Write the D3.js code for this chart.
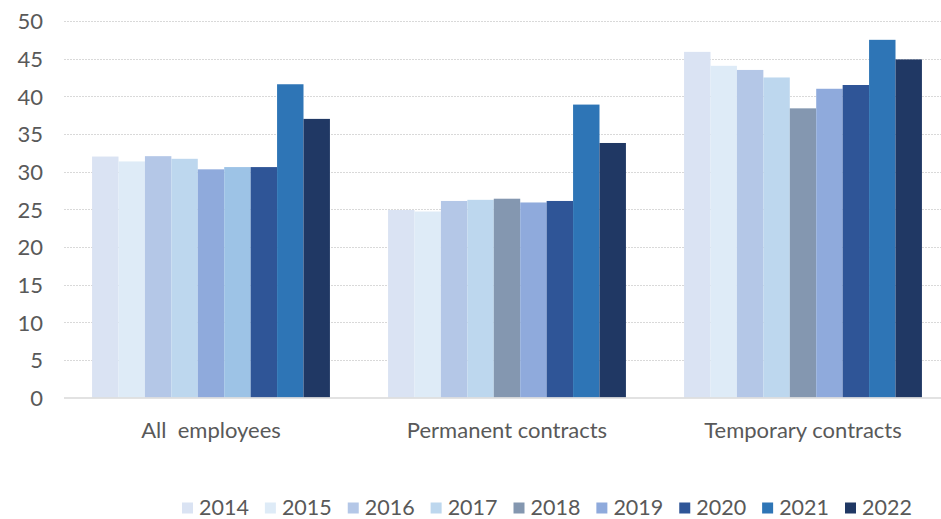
<!DOCTYPE html>
<html><head><meta charset="utf-8">
<script src="https://cdn.jsdelivr.net/npm/d3@7"></script>
<style>html,body{margin:0;padding:0;background:#fff;}svg{display:block;font-family:Lato,"Open Sans",sans-serif;}</style>
</head><body>
<svg id="chart" width="941" height="519"></svg>
<script>
const categories = ["All  employees", "Permanent contracts", "Temporary contracts"];
const years = ["2014","2015","2016","2017","2018","2019","2020","2021","2022"];
const v2014 = [32.0, 24.9, 45.9];
const v2015 = [31.35, 24.7, 44.05];
const v2016 = [32.05, 26.1, 43.5];
const v2017 = [31.7, 26.25, 42.5];
const v2018 = [30.3, 26.4, 38.4];
const v2019 = [30.6, 25.9, 41.0];
const v2020 = [30.6, 26.1, 41.5];
const v2021 = [41.6, 38.9, 47.5];
const v2022 = [37.0, 33.8, 44.9];
const seriesValues = [v2014, v2015, v2016, v2017, v2018, v2019, v2020, v2021, v2022];
const colors = ["#DAE3F3","#DEEBF7","#B4C7E7","#BDD7EE","#8497B0","#8FAADC","#2F5597","#2E75B6","#203864"];
// per-point colour overrides seen in the source ("All employees" group)
const pointColors = {"0-4": "#8FAADC", "0-5": "#9DC3E6"};
const yTicks = [0,5,10,15,20,25,30,35,40,45,50];

const FONT = "Lato,'Open Sans',sans-serif";
const svg = d3.select("#chart");
const x0 = d3.scaleBand().domain(categories).range([63, 951]).paddingInner(0).paddingOuter(0);
const x1 = d3.scaleBand().domain(years).range([0, x0.bandwidth()]).paddingOuter(1.1).paddingInner(0);
const y = d3.scaleLinear().domain([0, 50]).range([397.5, 21]);

// gridlines
svg.append("g").selectAll("line").data(yTicks.filter(t => t > 0)).join("line")
  .attr("x1", 64).attr("x2", 941)
  .attr("y1", d => Math.round(y(d)) + 0.5).attr("y2", d => Math.round(y(d)) + 0.5)
  .attr("stroke", "#D9D9D9").attr("stroke-width", 1.2).attr("stroke-dasharray", "2,1");

// y axis labels
const yAxis = d3.axisLeft(y).tickValues(yTicks).tickSize(0).tickPadding(0);
const ga = svg.append("g").attr("transform", "translate(43,0)").call(yAxis);
ga.select(".domain").remove();
ga.selectAll("text").attr("font-size", 22).attr("fill", "#595959").attr("font-family", FONT).attr("dy", "0.36em");

// bars
const groups = svg.append("g").selectAll("g").data(categories).join("g")
  .attr("transform", d => `translate(${x0(d)},0)`);
groups.selectAll("rect").data((c, ci) => years.map((yr, si) => ({yr, si, ci, v: seriesValues[si][ci]}))).join("rect")
  .attr("x", d => x1(d.yr)).attr("width", x1.bandwidth())
  .attr("y", d => y(d.v)).attr("height", d => y(0) - y(d.v))
  .attr("fill", d => pointColors[d.ci + "-" + d.si] || colors[d.si]);

// zero axis line
svg.append("line").attr("x1", 64).attr("x2", 941).attr("y1", y(0) + 0.5).attr("y2", y(0) + 0.5)
  .attr("stroke", "#D9D9D9").attr("stroke-width", 1.5);

// category labels
const xAxis = d3.axisBottom(x0).tickSize(0).tickPadding(0);
const gx = svg.append("g").attr("transform", "translate(0,438)").call(xAxis);
gx.select(".domain").remove();
gx.selectAll("text").attr("font-size", 22).attr("fill", "#595959").attr("font-family", FONT).attr("dy", "0").style("white-space", "pre").attr("xml:space", "preserve");

// legend
const legendX = d3.scalePoint().domain(years).range([182, 845]);
const lg = svg.append("g").selectAll("g").data(years).join("g")
  .attr("transform", d => `translate(${legendX(d)},507)`);
lg.append("rect").attr("x", 0).attr("y", -4.5).attr("width", 11).attr("height", 11)
  .attr("fill", (d, i) => colors[i]);
lg.append("text").attr("x", 17).attr("y", 0).attr("dy", "0.36em")
  .attr("font-size", 21.5).attr("fill", "#595959").attr("font-family", FONT).text(d => d);
</script>
</body></html>
